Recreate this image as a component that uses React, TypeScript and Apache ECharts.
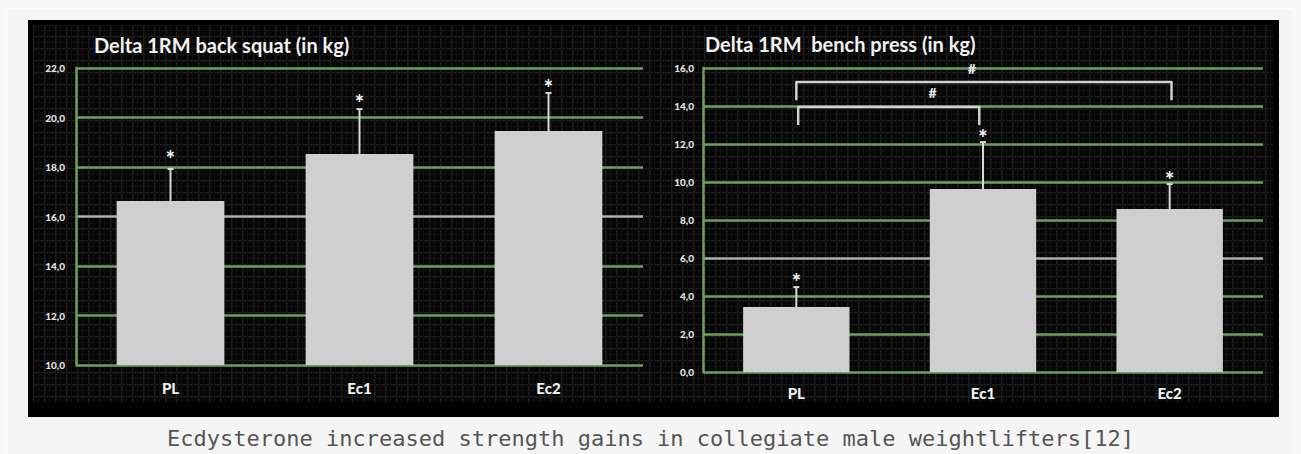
import React, { useEffect, useRef } from "react";
import * as echarts from "echarts";

// ---------- data ----------
const CATEGORIES = ["PL", "Ec1", "Ec2"];

const SQUAT_TITLE = "Delta 1RM back squat (in kg)";
const SQUAT_MEANS = [16.63, 18.53, 19.45];
const SQUAT_ERR_TOP = [17.92, 20.34, 20.99];
const SQUAT_STAR_Y = [18.53, 20.79, 21.4];
const SQUAT_MIN = 10;
const SQUAT_MAX = 22;

const BENCH_TITLE = "Delta 1RM  bench press (in kg)";
const BENCH_MEANS = [3.42, 9.63, 8.58];
const BENCH_ERR_TOP = [4.47, 12.1, 9.89];
const BENCH_STAR_Y = [5.05, 12.6, 10.37];
const BENCH_MIN = 0;
const BENCH_MAX = 16;

const TICK_STEP = 2;

// significance brackets on the bench press chart (category-index units)
const BRACKET_FROM = [0.01, 0.0];
const BRACKET_TO = [0.98, 2.01];
const BRACKET_TOP = [13.95, 15.26];
const BRACKET_LEG_END = [13.0, 14.3];
const HASH_X = [0.73, 0.94];
const HASH_Y = [14.7, 15.95];

const CAPTION = "Ecdysterone increased strength gains in collegiate male weightlifters[12]";

// ---------- styles ----------
const FONT = "Lato, 'Open Sans', sans-serif";
const GREEN = "#6f9f60";
const GREY_LINE = "#aab2a6";
const BAR = "#cfcfcf";

function makeTexture(): string {
  try {
    const c = document.createElement("canvas");
    c.width = 11;
    c.height = 12;
    const ctx = c.getContext("2d");
    if (!ctx) return "";
    ctx.fillStyle = "#050505";
    ctx.fillRect(0, 0, 11, 12);
    ctx.fillStyle = "#1d1d1d";
    ctx.fillRect(0, 0, 11, 1);
    ctx.fillRect(0, 0, 1, 12);
    ctx.fillStyle = "#111111";
    ctx.fillRect(0, 1, 11, 1);
    ctx.fillRect(1, 0, 1, 12);
    ctx.fillRect(5, 0, 1, 12);
    ctx.fillRect(0, 6, 11, 1);
    return c.toDataURL();
  } catch (e) {
    return "";
  }
}

const fmt = (v: number) => v.toFixed(1).replace(".", ",");

function errorSeries(gi: number, means: number[], tops: number[]) {
  return {
    type: "custom",
    xAxisIndex: gi,
    yAxisIndex: gi,
    z: 5,
    encode: { x: 0, y: [1, 2] },
    data: means.map((m, i) => [i, m, tops[i]]),
    renderItem: (params: any, api: any) => {
      const idx = api.value(0);
      const p0 = api.coord([idx, api.value(1)]);
      const p1 = api.coord([idx, api.value(2)]);
      const st = { stroke: "#d8d8d8", lineWidth: 2 };
      return {
        type: "group",
        children: [
          { type: "line", shape: { x1: p0[0], y1: p0[1], x2: p1[0], y2: p1[1] }, style: st },
          { type: "line", shape: { x1: p1[0] - 3, y1: p1[1], x2: p1[0] + 3, y2: p1[1] }, style: st },
        ],
      };
    },
  };
}

function starSeries(gi: number, ys: number[]) {
  return {
    type: "custom",
    xAxisIndex: gi,
    yAxisIndex: gi,
    z: 6,
    encode: { x: 0, y: 1 },
    data: ys.map((y, i) => [i, y]),
    renderItem: (params: any, api: any) => {
      const p = api.coord([api.value(0), api.value(1)]);
      return {
        type: "text",
        x: p[0],
        y: p[1] + 5,
        style: {
          text: "*",
          fill: "#f4f4f4",
          font: `900 22px ${FONT}`,
          align: "center",
          verticalAlign: "middle",
        },
      };
    },
  };
}

function catCoord(api: any, frac: number, val: number) {
  const a = api.coord([0, val]);
  const b = api.coord([1, val]);
  return [a[0] + frac * (b[0] - a[0]), a[1]];
}

export default function App() {
  const ref = useRef<HTMLDivElement>(null);

  useEffect(() => {
    document.body.style.margin = "0";
    if (!ref.current) return;
    const chart = echarts.init(ref.current, undefined, { renderer: "svg" });
    const tex = makeTexture();

    const yAxisCommon = (gi: number, min: number, max: number, margin: number, colors: string[]) => ({
      type: "value",
      gridIndex: gi,
      min,
      max,
      interval: TICK_STEP,
      axisLine: { show: true, lineStyle: { color: GREEN, width: 2.5 } },
      axisTick: { show: false },
      axisLabel: {
        formatter: (v: number) => fmt(v),
        color: "#e4e4e4",
        fontSize: 10,
        fontWeight: 900,
        fontFamily: FONT,
        margin,
      },
      splitLine: { show: true, lineStyle: { color: colors, width: 2.5 } },
    });

    const xAxisCommon = (gi: number, margin: number) => ({
      type: "category",
      gridIndex: gi,
      data: CATEGORIES,
      axisLine: { show: false },
      axisTick: { show: false },
      axisLabel: {
        color: "#f0f0f0",
        fontSize: 15,
        fontWeight: 900,
        fontFamily: FONT,
        margin,
        verticalAlign: "middle",
      },
    });

    const squatColors = [GREEN, GREEN, GREEN, GREY_LINE, GREEN, GREEN, GREEN];
    const benchColors = [GREEN, GREEN, GREEN, GREY_LINE, GREEN, GREEN, GREEN, GREEN, GREEN];

    chart.setOption({
      animation: false,
      backgroundColor: "#f7f7f7",
      graphic: [
        { type: "rect", z: -100, shape: { x: 7, y: 9, width: 1287, height: 460 }, style: { fill: "#f5f5f5", stroke: "#ffffff", lineWidth: 1 } },
        { type: "rect", z: -99, shape: { x: 28, y: 20, width: 1251, height: 397 }, style: { fill: "#000000" } },
        {
          type: "rect",
          z: -98,
          shape: { x: 33, y: 25, width: 1240, height: 377 },
          style: { fill: tex ? { image: tex, repeat: "repeat" } : "#0b0b0b" },
        },
        { type: "text", z: 100, x: 94, y: 45, style: { text: SQUAT_TITLE, fill: "#f2f2f2", font: `bold 20px ${FONT}`, verticalAlign: "middle" } },
        { type: "text", z: 100, x: 705, y: 44, style: { text: BENCH_TITLE, fill: "#f2f2f2", font: `bold 20px ${FONT}`, verticalAlign: "middle" } },
        {
          type: "text",
          z: 100,
          x: 650.5,
          y: 438,
          style: {
            text: CAPTION,
            fill: "#555555",
            font: "22px 'DejaVu Sans Mono', monospace",
            align: "center",
            verticalAlign: "middle",
          },
        },
      ],
      grid: [
        { left: 76, right: 1301 - 643, top: 68, bottom: 454 - 365 },
        { left: 703, right: 1301 - 1263, top: 68, bottom: 454 - 372 },
      ],
      xAxis: [xAxisCommon(0, 23), xAxisCommon(1, 21)],
      yAxis: [
        yAxisCommon(0, SQUAT_MIN, SQUAT_MAX, 11, squatColors),
        yAxisCommon(1, BENCH_MIN, BENCH_MAX, 9, benchColors),
      ],
      series: [
        {
          type: "bar",
          xAxisIndex: 0,
          yAxisIndex: 0,
          data: SQUAT_MEANS,
          barWidth: "57%",
          itemStyle: { color: BAR },
          z: 3,
        },
        {
          type: "bar",
          xAxisIndex: 1,
          yAxisIndex: 1,
          data: BENCH_MEANS,
          barWidth: "57%",
          itemStyle: { color: BAR },
          z: 3,
        },
        errorSeries(0, SQUAT_MEANS, SQUAT_ERR_TOP),
        errorSeries(1, BENCH_MEANS, BENCH_ERR_TOP),
        starSeries(0, SQUAT_STAR_Y),
        starSeries(1, BENCH_STAR_Y),
        {
          type: "custom",
          xAxisIndex: 1,
          yAxisIndex: 1,
          z: 6,
          encode: { x: 0, y: 3 },
          data: BRACKET_FROM.map((f, i) => [0, f, BRACKET_TO[i], BRACKET_TOP[i], BRACKET_LEG_END[i]]),
          renderItem: (params: any, api: any) => {
            const from = api.value(1);
            const to = api.value(2);
            const top = api.value(3);
            const leg = api.value(4);
            const a = catCoord(api, from, leg);
            const b = catCoord(api, from, top);
            const c = catCoord(api, to, top);
            const d = catCoord(api, to, leg);
            return {
              type: "polyline",
              shape: { points: [a, b, c, d] },
              style: { stroke: "#d0d0d0", lineWidth: 2.5, fill: "none", lineJoin: "round" },
            };
          },
        },
        {
          type: "custom",
          xAxisIndex: 1,
          yAxisIndex: 1,
          z: 7,
          encode: { x: 0, y: 2 },
          data: HASH_X.map((x, i) => [0, x, HASH_Y[i]]),
          renderItem: (params: any, api: any) => {
            const p = catCoord(api, api.value(1), api.value(2));
            return {
              type: "text",
              x: p[0],
              y: p[1],
              style: {
                text: "#",
                fill: "#eeeeee",
                font: `900 14px ${FONT}`,
                align: "center",
                verticalAlign: "middle",
              },
            };
          },
        },
      ],
    });

    return () => chart.dispose();
  }, []);

  return <div ref={ref} style={{ width: 1301, height: 454 }} />;
}
